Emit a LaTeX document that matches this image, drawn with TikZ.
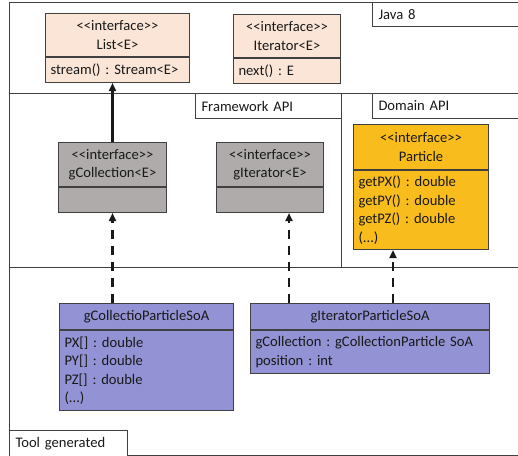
\documentclass[tikz,border=0pt]{standalone}
\usepackage{fontspec}
\setmainfont{Carlito}
\usetikzlibrary{arrows.meta, positioning}
\definecolor{umlpeach}{HTML}{FBE5D6}
\definecolor{umlgray}{HTML}{AFABAB}
\definecolor{umlgold}{HTML}{F8BC1D}
\definecolor{umlpurple}{HTML}{9292D4}
\definecolor{umlline}{HTML}{404040}
\frenchspacing

\begin{document}
\begin{tikzpicture}[x=1pt, y=-1pt,
    every node/.style={font=\fontsize{14.6}{18.5}\selectfont, text=black!90},
    region/.style={draw=umlline, line width=1pt},
    tag/.style={draw=umlline, line width=1pt, fill=white, anchor=north west,
                inner xsep=6pt, inner ysep=0pt, align=left, minimum height=24pt},
    head/.style={draw=umlline, line width=1pt, anchor=north west, align=center, inner sep=0pt},
    body/.style={draw=umlline, line width=1pt, anchor=north, align=left,
                 inner xsep=5pt, inner ysep=0pt},
    solidarrow/.style={-{Triangle[length=8pt, width=7pt]}, line width=2.4pt, draw=black!90},
    dasharrow/.style={-{Triangle[length=8pt, width=7pt]}, line width=2.4pt, draw=black!90,
                      dash pattern=on 9pt off 7pt},
]
    \useasboundingbox (0,0) rectangle (518,455);

    % Regions
    \draw[region] (9,2) rectangle (518,455);
    \draw[region] (9,93) -- (518,93);
    \draw[region] (9,267) -- (518,267);
    \draw[region] (341,93) -- (341,267);

    \node[tag, text width=134pt] (java) at (372,2) {Java 8};
    \node[tag, minimum height=25pt, text width=134pt] (fwapi) at (195,93) {Framework API};
    \node[tag, minimum height=25pt, text width=134pt] (domapi) at (372,93) {Domain API};
    \node[tag, minimum height=26pt, text width=106pt, inner xsep=6pt] (toolgen) at (9,430) {Tool generated};

    % Java 8
    \node[head, fill=umlpeach, minimum width=144pt, minimum height=43pt] (listhead) at (45,13)
        {{<}{<}interface{>}{>}\\List<E>};
    \node[body, fill=umlpeach, text width=134pt, minimum height=25pt] (listbody) at (listhead.south)
        {stream() : Stream<E>};
    \node[head, fill=umlpeach, minimum width=107pt, minimum height=43pt] (iterhead) at (233,14)
        {{<}{<}interface{>}{>}\\Iterator<E>};
    \node[body, fill=umlpeach, text width=97pt, minimum height=25pt] (iterbody) at (iterhead.south)
        {next() : E};

    % Framework API
    \node[head, fill=umlgray, minimum width=108pt, minimum height=44pt] (gcolhead) at (58,142)
        {{<}{<}interface{>}{>}\\gCollection<E>};
    \node[body, fill=umlgray, text width=98pt, minimum height=25pt] (gcolbody) at (gcolhead.south) {};
    \node[head, fill=umlgray, minimum width=107pt, minimum height=44pt] (giterhead) at (216,142)
        {{<}{<}interface{>}{>}\\gIterator<E>};
    \node[body, fill=umlgray, text width=97pt, minimum height=25pt] (giterbody) at (giterhead.south) {};

    % Domain API
    \node[head, fill=umlgold, minimum width=135pt, minimum height=45pt] (parthead) at (353,124)
        {{<}{<}interface{>}{>}\\Particle};
    \node[body, fill=umlgold, text width=125pt, minimum height=79pt] (partbody) at (parthead.south)
        {getPX() : double\\getPY() : double\\getPZ() : double\\(...)};

    % Tool generated
    \node[head, fill=umlpurple, minimum width=174pt, minimum height=26pt] (soacolhead) at (59,303)
        {gCollectioParticleSoA};
    \node[body, fill=umlpurple, text width=164pt, minimum height=80pt] (soacolbody) at (soacolhead.south)
        {PX[] : double\\PY[] : double\\PZ[] : double\\(...)};
    \node[head, fill=umlpurple, minimum width=239pt, minimum height=26pt] (soaiterhead) at (250,303)
        {gIteratorParticleSoA};
    \node[body, fill=umlpurple, text width=229pt, minimum height=43pt] (soaiterbody) at (soaiterhead.south)
        {gCollection : gCollectionParticle SoA\\position : int};

    % Arrows
    \draw[solidarrow] (gcolhead.north) -- (gcolhead.north |- listbody.south);
    \draw[dasharrow] (gcolbody.south |- soacolhead.north) -- (gcolbody.south);
    \coordinate (itfrom) at ([xshift=39pt]soaiterhead.north west);
    \coordinate (partfrom) at ([xshift=143pt]soaiterhead.north west);
    \draw[dasharrow] (itfrom) -- (itfrom |- giterbody.south);
    \draw[dasharrow] (partfrom) -- (partfrom |- partbody.south);
\end{tikzpicture}
\end{document}
